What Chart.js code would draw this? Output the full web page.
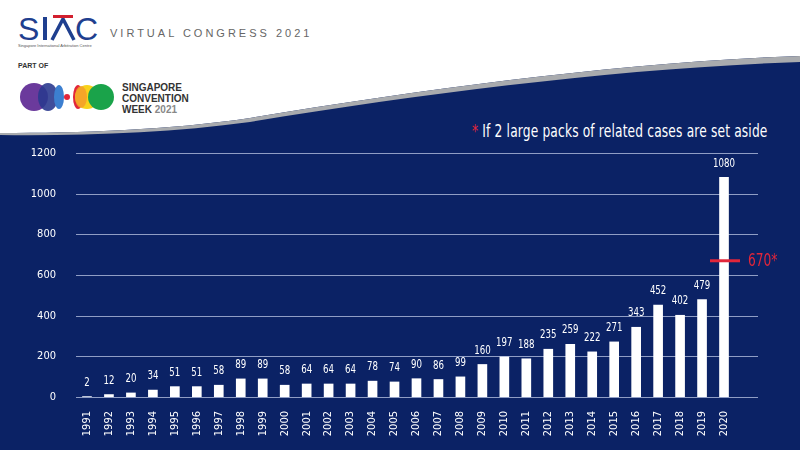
<!DOCTYPE html>
<html><head><meta charset="utf-8">
<script src="https://cdn.jsdelivr.net/npm/chart.js@4"></script>
<style>
html,body{margin:0;padding:0;width:800px;height:450px;overflow:hidden;background:#0b2265;font-family:"Liberation Sans Narrow","DejaVu Sans Condensed",sans-serif}
#hdr{position:absolute;left:0;top:0;width:800px;height:140px}
#wrap{position:absolute;left:0;top:0;width:800px;height:450px}
.t{position:absolute;white-space:nowrap}
</style></head><body>
<svg id="hdr" viewBox="0 0 800 140">
<path d="M0,0 H800 V56 C620,62 420,90 250,118 C170,130 80,133 0,133 Z" fill="#ffffff"/>
<path d="M250,118 C420,90 620,62 800,56 L800,62 C620,68 420,94 250,122 C170,133 80,136 0,135 L0,133 C80,133 170,130 250,118 Z" fill="#a9abae"/>
<text x="18" y="40" font-family="Liberation Sans" font-size="32" fill="#1f3f8f">S</text>
<rect x="43" y="17" width="4" height="23" fill="#1f3f8f"/>
<path d="M52,40 L63,19 L74,40" stroke="#1f3f8f" stroke-width="3.5" fill="none"/>
<rect x="53" y="15" width="20" height="3" fill="#d21f2e"/>
<text x="75" y="40" font-family="Liberation Sans" font-size="32" fill="#1f3f8f">C</text>
<text x="18" y="47" font-family="Liberation Sans" font-size="4" fill="#555">Singapore International Arbitration Centre</text>
<text x="110" y="37" font-family="Liberation Sans" font-size="11" fill="#666" letter-spacing="3">VIRTUAL CONGRESS 2021</text>
<text x="18" y="68" font-family="Liberation Sans" font-size="7" font-weight="bold" fill="#333">PART OF</text>
<circle cx="34" cy="97" r="14" fill="#6b3a9c"/>
<ellipse cx="48" cy="97" rx="10" ry="14" fill="#2b3a8f" opacity="0.9"/>
<ellipse cx="59" cy="97" rx="5" ry="12" fill="#3c7fd0"/>
<circle cx="67" cy="97" r="3" fill="#e2263a"/>
<ellipse cx="78" cy="97" rx="5" ry="12" fill="#e2263a"/>
<circle cx="87" cy="97" r="12" fill="#f7d21b"/>
<ellipse cx="81" cy="97" rx="6" ry="11" fill="#f39a2c" opacity="0.8"/>
<circle cx="101" cy="97" r="13" fill="#1aa34a"/>
<text x="122" y="91" font-family="Liberation Sans" font-size="10" font-weight="bold" fill="#333">SINGAPORE</text>
<text x="122" y="102" font-family="Liberation Sans" font-size="10" font-weight="bold" fill="#333">CONVENTION</text>
<text x="122" y="113" font-family="Liberation Sans" font-size="10" font-weight="bold" fill="#333">WEEK <tspan fill="#888">2021</tspan></text>
</svg>
<div class="t" style="left:472px;top:121px;font-size:17px;color:#fff;letter-spacing:0.2px;transform:scaleX(0.8);transform-origin:left top"><span style="color:#e2263a">*</span> If 2 large packs of related cases are set aside</div>
<div id="wrap"><canvas id="c" width="800" height="450"></canvas></div>
<script>
const categories=["1991","1992","1993","1994","1995","1996","1997","1998","1999","2000","2001","2002","2003","2004","2005","2006","2007","2008","2009","2010","2011","2012","2013","2014","2015","2016","2017","2018","2019","2020"];
const cases=[2,12,20,34,51,51,58,89,89,58,64,64,64,78,74,90,86,99,160,197,188,235,259,222,271,343,452,402,479,1080];
const yTicks=[0,200,400,600,800,1000,1200];
const adjusted={index:29,value:670,label:"670*"};
const F='"Liberation Sans Narrow","DejaVu Sans Condensed",sans-serif';
function nText(c,s,x,y,sx){c.save();c.translate(x,y);c.scale(sx,1);c.fillText(s,0,0);c.restore();}
const extras={id:'extras',
 beforeDatasetsDraw(ch){const c=ch.ctx,y=ch.scales.y,a=ch.chartArea;c.save();c.strokeStyle='rgba(190,200,230,0.75)';c.lineWidth=1;
  yTicks.forEach(v=>{const p=Math.round(y.getPixelForValue(v))+0.5;c.beginPath();c.moveTo(a.left,p);c.lineTo(758,p);c.stroke();});c.restore();},
 afterDatasetsDraw(ch){const c=ch.ctx,y=ch.scales.y,x=ch.scales.x;c.save();
  const meta=ch.getDatasetMeta(0);c.fillStyle='#fff';c.font='12px '+F;c.textAlign='center';c.textBaseline='bottom';
  meta.data.forEach((b,i)=>nText(c,String(cases[i]),b.x,b.y-8,0.8));
  const px=x.getPixelForValue(adjusted.index),py=y.getPixelForValue(adjusted.value);
  c.strokeStyle='#e2263a';c.lineWidth=3;c.beginPath();c.moveTo(px-14,py);c.lineTo(px+16,py);c.stroke();
  c.fillStyle='#e2263a';c.font='17px '+F;c.textAlign='left';c.textBaseline='middle';nText(c,adjusted.label,px+24,py+1,0.8);c.restore();}
};
new Chart(document.getElementById('c'),{type:'bar',
 data:{labels:categories,datasets:[{data:cases,backgroundColor:'#ffffff',barThickness:9}]},
 options:{responsive:false,animation:false,layout:{padding:{top:153,right:65,left:0,bottom:0}},
  plugins:{legend:{display:false},tooltip:{enabled:false}},
  scales:{y:{min:0,max:1200,afterBuildTicks:s=>{s.ticks=yTicks.map(v=>({value:v}));},grid:{display:false},border:{display:false},
     afterFit:s=>{s.width=76;},ticks:{color:'#fff',font:{family:F,size:11},padding:12,callback:v=>String(v)}},
   x:{grid:{display:false},border:{display:false},afterFit:s=>{s.height=53;},ticks:{color:'#fff',font:{family:F,size:11},maxRotation:90,minRotation:90,autoSkip:false,padding:6}}}},
 plugins:[extras]});
</script></body></html>
